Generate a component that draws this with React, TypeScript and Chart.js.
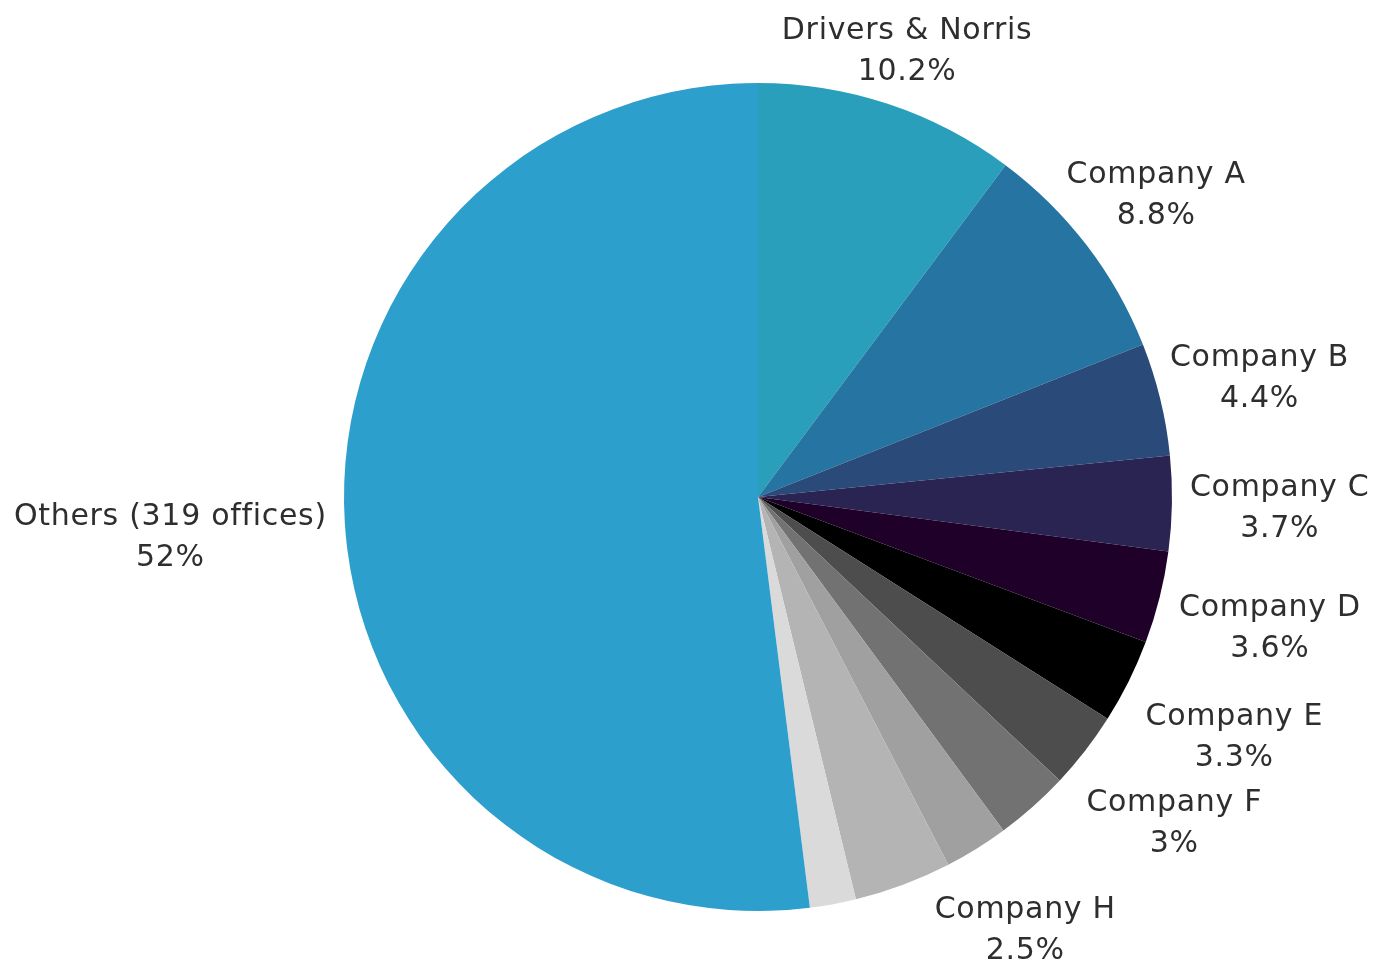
import React, { useEffect, useRef } from "react";
import { Chart, registerables } from "chart.js";

Chart.register(...registerables);

const categories = [
  "Drivers & Norris",
  "Company A",
  "Company B",
  "Company C",
  "Company D",
  "Company E",
  "Company F",
  "Company G",
  "Company H",
  "Company I",
  "Company J",
  "Others (319 offices)",
];
const shares = [10.2, 8.8, 4.4, 3.7, 3.6, 3.3, 3, 2.9, 2.5, 3.8, 1.8, 52];
const shareLabels = ["10.2%", "8.8%", "4.4%", "3.7%", "3.6%", "3.3%", "3%", "", "2.5%", "", "", "52%"];
const showLabel = [true, true, true, true, true, true, true, false, true, false, false, true];
const colors = [
  "#2a9fbb",
  "#2574a2",
  "#2a4b7a",
  "#2a2453",
  "#1e0028",
  "#000000",
  "#4d4d4d",
  "#727272",
  "#a0a0a0",
  "#b4b4b4",
  "#dadada",
  "#2c9fcc",
];
const labelGap = [16, 20, 10, 18, 20, 26, 46, 0, 44, 0, 0, 18];

const FONT = "30px 'DejaVu Sans'";
const LINE_H = 41;

const outerLabels = {
  id: "outerLabels",
  afterDatasetsDraw(chart: any) {
    const ctx = chart.ctx;
    const meta = chart.getDatasetMeta(0);
    ctx.save();
    ctx.font = FONT;
    (ctx as any).letterSpacing = "0.7px";
    ctx.fillStyle = "#2e2e2e";
    ctx.textAlign = "center";
    ctx.textBaseline = "middle";
    meta.data.forEach((arc: any, i: number) => {
      if (!showLabel[i]) return;
      const p = arc.getProps(["x", "y", "startAngle", "endAngle", "outerRadius"], true);
      const mid = (p.startAngle + p.endAngle) / 2;
      const dx = Math.cos(mid);
      const dy = Math.sin(mid);
      const lines = [categories[i], shareLabels[i]];
      const w = Math.max(...lines.map((l) => ctx.measureText(l).width));
      const halfW = w / 2;
      const halfH = LINE_H;
      const tx = Math.abs(dx) > 1e-6 ? halfW / Math.abs(dx) : Infinity;
      const ty = Math.abs(dy) > 1e-6 ? halfH / Math.abs(dy) : Infinity;
      const t = Math.min(tx, ty);
      const r = p.outerRadius + labelGap[i] + t;
      const cx = p.x + dx * r;
      const cy = p.y + dy * r + 4;
      ctx.fillText(lines[0], cx, cy - LINE_H / 2);
      ctx.fillText(lines[1], cx, cy + LINE_H / 2);
    });
    ctx.restore();
  },
};

export default function App() {
  const ref = useRef<HTMLCanvasElement | null>(null);
  useEffect(() => {
    if (!ref.current) return;
    const chart = new Chart(ref.current, {
      type: "pie",
      data: {
        labels: categories,
        datasets: [
          {
            data: shares,
            backgroundColor: colors,
            borderWidth: 0,
          },
        ],
      },
      options: {
        animation: false,
        responsive: true,
        maintainAspectRatio: false,
        layout: { padding: { left: 344, right: 210, top: 83, bottom: 63 } },
        plugins: {
          legend: { display: false },
          tooltip: { enabled: false },
        },
      },
      plugins: [outerLabels],
    });
    return () => chart.destroy();
  }, []);
  return (
    <div style={{ position: "fixed", left: 0, top: 0, width: 1382, height: 974, background: "#ffffff" }}>
      <canvas ref={ref} />
    </div>
  );
}
